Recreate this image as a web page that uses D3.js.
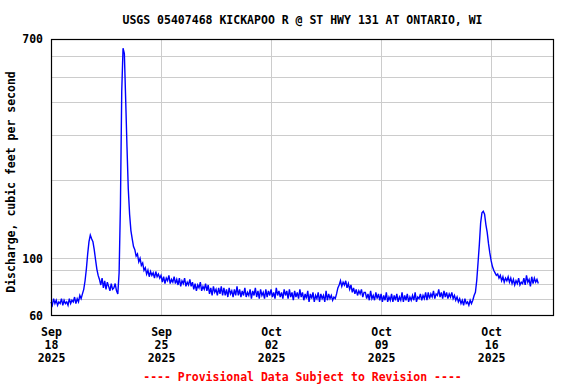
<!DOCTYPE html>
<html>
<head>
<meta charset="utf-8">
<script src="https://cdn.jsdelivr.net/npm/d3@7"></script>
<style>
  body { margin: 0; background: #fff; }
  text { font-family: "DejaVu Sans Mono", "Liberation Mono", monospace; font-weight: bold; font-size: 11.5px; }
</style>
</head>
<body>
<svg width="576" height="384"></svg>
<script>
// 2-hourly discharge (cfs) starting 2025-09-18 00:00
var startTime = new Date(2025, 8, 18, 0, 0);
var stepHours = 2;
var flow = [
  68,66,70,67,69,66,68,67,70,66,69,67,          // Sep 18
  68,66,70,67,69,68,71,67,70,68,72,70,          // Sep 19
  73,76,82,91,104,116,123,119,116,108,99,91,    // Sep 20
  86,83,79,84,77,82,76,81,78,75,80,76,          // Sep 21
  77,80,75,73,88,160,440,645,615,410,270,185,   // Sep 22
  148,128,119,111,108,102,104,97,100,94,96,90,  // Sep 23
  92,87,90,85,89,86,88,84,89,85,87,84,          // Sep 24
  86,81,85,80,84,82,86,80,83,81,85,80,          // Sep 25
  83,79,84,78,82,80,84,78,81,79,83,78,          // Sep 26
  81,76,80,75,79,77,81,75,78,76,80,75,          // Sep 27
  79,73,77,72,78,74,76,72,77,73,78,72,          // Sep 28
  77,72,76,71,77,73,75,71,76,72,78,72,          // Sep 29
  76,71,75,72,77,71,74,72,76,70,75,72,          // Sep 30
  77,71,75,70,76,72,74,70,76,71,75,72,          // Oct 01
  76,71,74,70,77,72,75,71,74,70,76,72,          // Oct 02
  75,70,76,71,74,69,75,71,74,70,76,71,          // Oct 03
  74,69,73,70,75,68,73,70,74,68,72,70,          // Oct 04
  74,68,73,70,72,68,75,69,73,70,72,69,          // Oct 05
  71,70,73,77,79,82,78,81,79,82,77,80,          // Oct 06
  76,79,74,77,73,76,72,75,73,76,71,74,          // Oct 07
  74,70,73,69,75,70,72,69,74,70,73,69,          // Oct 08
  73,68,72,69,74,68,71,69,73,68,72,69,          // Oct 09
  73,68,71,69,74,68,72,69,73,68,71,69,          // Oct 10
  72,69,74,68,71,70,73,69,72,70,74,69,          // Oct 11
  74,70,73,71,75,70,73,72,76,71,74,70,          // Oct 12
  75,71,74,70,73,71,74,70,72,69,71,68,          // Oct 13
  70,67,69,66,70,67,68,66,69,67,69,72,          // Oct 14
  74,82,96,113,137,150,152,148,135,126,114,105, // Oct 15
  98,93,90,88,86,87,84,86,82,85,81,84,          // Oct 16
  82,85,81,84,80,83,79,82,80,84,79,81,          // Oct 17
  80,84,79,86,81,83,78,85,80,84,81,83,          // Oct 18
  80                                            // Oct 19 00:00
];

var xTicks = ["2025-09-18", "2025-09-25", "2025-10-02", "2025-10-09", "2025-10-16"];
var yLabelTicks = [60, 100, 700];
var yGridTicks = [70, 80, 90, 100, 200, 300, 400, 500, 600];

var title = "USGS 05407468 KICKAPOO R @ ST HWY 131 AT ONTARIO, WI";
var yTitle = "Discharge, cubic feet per second";
var footer = "---- Provisional Data Subject to Revision ----";

var svg = d3.select("svg"),
    margin = {top: 39, right: 22, bottom: 68, left: 51},
    width = +svg.attr("width") - margin.left - margin.right,
    height = +svg.attr("height") - margin.top - margin.bottom,
    g = svg.append("g").attr("transform", "translate(" + margin.left + "," + margin.top + ")");

var parseDay = d3.timeParse("%Y-%m-%d");

var data = flow.map(function(v, i) {
  return {date: d3.timeHour.offset(startTime, i * stepHours), value: v};
});

var x = d3.scaleTime()
    .domain([new Date(2025, 8, 18), new Date(2025, 9, 20)])
    .range([0, width]);

var y = d3.scaleLog()
    .domain([60, 700])
    .range([height, 0]);

// grid
g.append("g")
    .selectAll("line")
    .data(yGridTicks)
    .enter().append("line")
      .attr("x1", 0)
      .attr("x2", width)
      .attr("y1", function(d) { return Math.round(y(d)) + 0.5; })
      .attr("y2", function(d) { return Math.round(y(d)) + 0.5; })
      .attr("stroke", "#cccccc");

g.append("g")
    .selectAll("line")
    .data(xTicks.slice(1))
    .enter().append("line")
      .attr("x1", function(d) { return Math.round(x(parseDay(d))) + 0.5; })
      .attr("x2", function(d) { return Math.round(x(parseDay(d))) + 0.5; })
      .attr("y1", 0)
      .attr("y2", height)
      .attr("stroke", "#cccccc");

// discharge line
var line = d3.line()
    .x(function(d) { return x(d.date); })
    .y(function(d) { return y(d.value); });

g.append("path")
    .datum(data)
    .attr("fill", "none")
    .attr("stroke", "#0000ff")
    .attr("stroke-width", 1.4)
    .attr("stroke-linejoin", "miter")
    .attr("d", line);

// frame
g.append("rect")
    .attr("x", 0.5)
    .attr("y", 0.5)
    .attr("width", width - 1)
    .attr("height", height - 1)
    .attr("fill", "none")
    .attr("stroke", "#000")
    .attr("stroke-width", 1.2);

// y axis labels
var yAxis = g.append("g")
    .call(d3.axisLeft(y).tickValues(yLabelTicks).tickSize(0).tickPadding(8).tickFormat(d3.format("d")));
yAxis.select(".domain").remove();
yAxis.selectAll("text")
    .attr("fill", "#000")
    .style("font-size", "11.5px");

// x axis labels, three lines each
var fmtMon = d3.timeFormat("%b"), fmtDay = d3.timeFormat("%d"), fmtYear = d3.timeFormat("%Y");
var xAxis = g.append("g")
    .attr("transform", "translate(0," + height + ")")
    .call(d3.axisBottom(x).tickValues(xTicks.map(parseDay)).tickSize(0).tickFormat(""));
xAxis.select(".domain").remove();
xAxis.selectAll(".tick").each(function(d) {
  var t = d3.select(this).append("text")
      .attr("fill", "#000")
      .attr("text-anchor", "middle")
      .style("font-size", "11.5px");
  t.append("tspan").attr("x", 0).attr("y", 20).text(fmtMon(d));
  t.append("tspan").attr("x", 0).attr("y", 33).text(fmtDay(d));
  t.append("tspan").attr("x", 0).attr("y", 46).text(fmtYear(d));
});

// titles
svg.append("text")
    .attr("x", margin.left + width / 2)
    .attr("y", 24)
    .attr("text-anchor", "middle")
    .text(title);

svg.append("text")
    .attr("transform", "translate(15," + 182 + ") rotate(-90)")
    .attr("text-anchor", "middle")
    .text(yTitle);

svg.append("text")
    .attr("x", margin.left + width / 2)
    .attr("y", 381)
    .attr("text-anchor", "middle")
    .attr("fill", "#ff0000")
    .text(footer);
</script>
</body>
</html>
